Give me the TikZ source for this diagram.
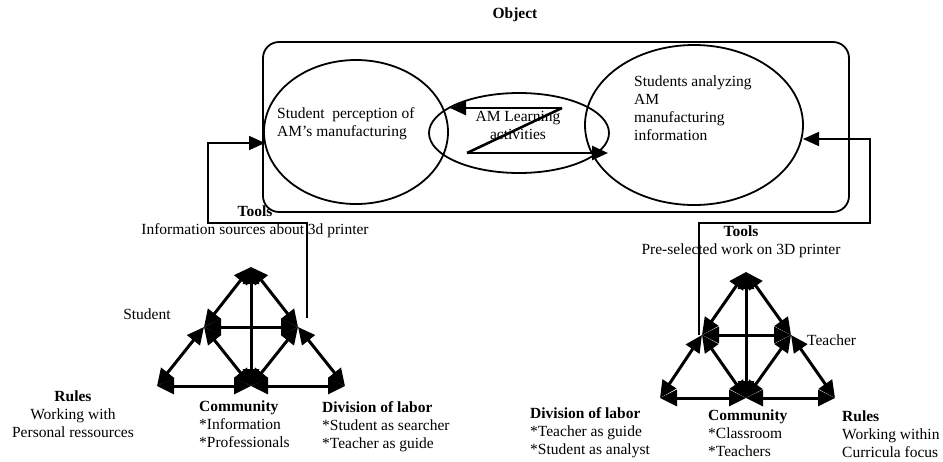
\documentclass[tikz,border=0pt]{standalone}
\usepackage{fontspec}
\setmainfont{Liberation Serif}
\usetikzlibrary{arrows.meta,shapes.geometric}
\begin{document}
\begin{tikzpicture}[x=1pt,y=-1pt,
  txt/.style={inner sep=0pt, font=\fontsize{15.5}{18}\selectfont},
  ell/.style={draw, ellipse, line width=1.8pt, inner sep=0pt},
  tri/.style={line width=3pt, {Triangle[length=17pt,width=16pt]}-{Triangle[length=17pt,width=16pt]}},
  midarr/.style={line width=2.6pt, -{Triangle[length=16pt,width=14pt]}},
  conn/.style={line width=1.8pt},
  connarr/.style={line width=1.8pt, -{Triangle[length=16pt,width=14pt]}}
]
\useasboundingbox (0,0) rectangle (943,461);

% object frame and ellipses
\node[draw, rounded corners=16pt, line width=1.8pt, minimum width=586pt, minimum height=170pt, inner sep=0pt] (objbox) at (556,127) {};
\node[ell, minimum width=184pt, minimum height=144pt] (e1) at (356,132) {};
\node[ell, minimum width=180pt, minimum height=80pt] (e2) at (519,133) {};
\node[ell, minimum width=218pt, minimum height=160pt] (e3) at (694,125) {};

\node[txt, font=\fontsize{15.5}{18}\selectfont\bfseries] (objlbl) at (515,15) {Object};
\node[txt, align=left, anchor=north west] (e1txt) at (277,107) {Student\ \ perception of\\AM’s manufacturing};
\node[txt, align=center, anchor=north] (e2txt) at (518,111) {AM Learning\\activities};
\node[txt, align=left, anchor=north west] (e3txt) at (634,76) {Students analyzing\\AM\\manufacturing\\information};

% middle arrows
\coordinate (m1) at (562,108);
\coordinate (m2) at (450,108);
\coordinate (m3) at (467,153);
\coordinate (m4) at (608,153);
\draw[midarr] (m1) -- (m2);
\draw[line width=2.6pt] (m1) -- (m3);
\draw[midarr] (m3) -- (m4);

% left triangle
\coordinate (lA) at (251,267);
\coordinate (lL) at (204,327);
\coordinate (lR) at (298,327);
\coordinate (lBL) at (157,386);
\coordinate (lB) at (251,386);
\coordinate (lBR) at (345,386);
\foreach \a/\b in {lA/lL, lA/lR, lA/lB, lL/lR, lL/lBL, lL/lB, lR/lB, lR/lBR, lBL/lB, lB/lBR}
  \draw[tri] (\a) -- (\b);

% right triangle
\coordinate (rA) at (746,272);
\coordinate (rL) at (702,335);
\coordinate (rR) at (791,335);
\coordinate (rBL) at (660,398);
\coordinate (rB) at (746,398);
\coordinate (rBR) at (835,398);
\foreach \a/\b in {rA/rL, rA/rR, rA/rB, rL/rR, rL/rBL, rL/rB, rR/rB, rR/rBR, rBL/rB, rB/rBR}
  \draw[tri] (\a) -- (\b);

% tools connectors
\coordinate (lc0) at (307,318);
\coordinate (lc1) at (208,223);
\coordinate (lc2) at (265,143);
\draw[connarr] (lc0) |- (lc1) |- (lc2);
\coordinate (rc0) at (699,335);
\coordinate (rc1) at (870,223);
\coordinate (rc2) at (803,139);
\draw[connarr] (rc0) |- (rc1) |- (rc2);

% labels
\node[txt, align=center, anchor=north] (ltools) at (255,206) {\textbf{Tools}\\Information sources about 3d printer};
\node[txt, align=center, anchor=north] (rtools) at (741,226) {\textbf{Tools}\\Pre-selected work on 3D printer};
\node[txt] (student) at (147,314) {Student};
\node[txt, anchor=west] (teacher) at (807,340) {Teacher};

\node[txt, align=center, anchor=north] (lrules) at (73,391) {\textbf{Rules}\\Working with\\Personal ressources};
\node[txt, align=left, anchor=north west] (lcomm) at (199,401) {\textbf{Community}\\*Information\\*Professionals};
\node[txt, align=left, anchor=north west] (ldiv) at (322,401) {\textbf{Division of labor}\\*Student as searcher\\*Teacher as guide};

\node[txt, align=left, anchor=north west] (rdiv) at (530,407) {\textbf{Division of labor}\\*Teacher as guide\\*Student as analyst};
\node[txt, align=left, anchor=north west] (rcomm) at (708,410) {\textbf{Community}\\*Classroom\\*Teachers};
\node[txt, align=left, anchor=north west] (rrules) at (842,411) {\textbf{Rules}\\Working within\\Curricula focus};
\end{tikzpicture}
\end{document}
